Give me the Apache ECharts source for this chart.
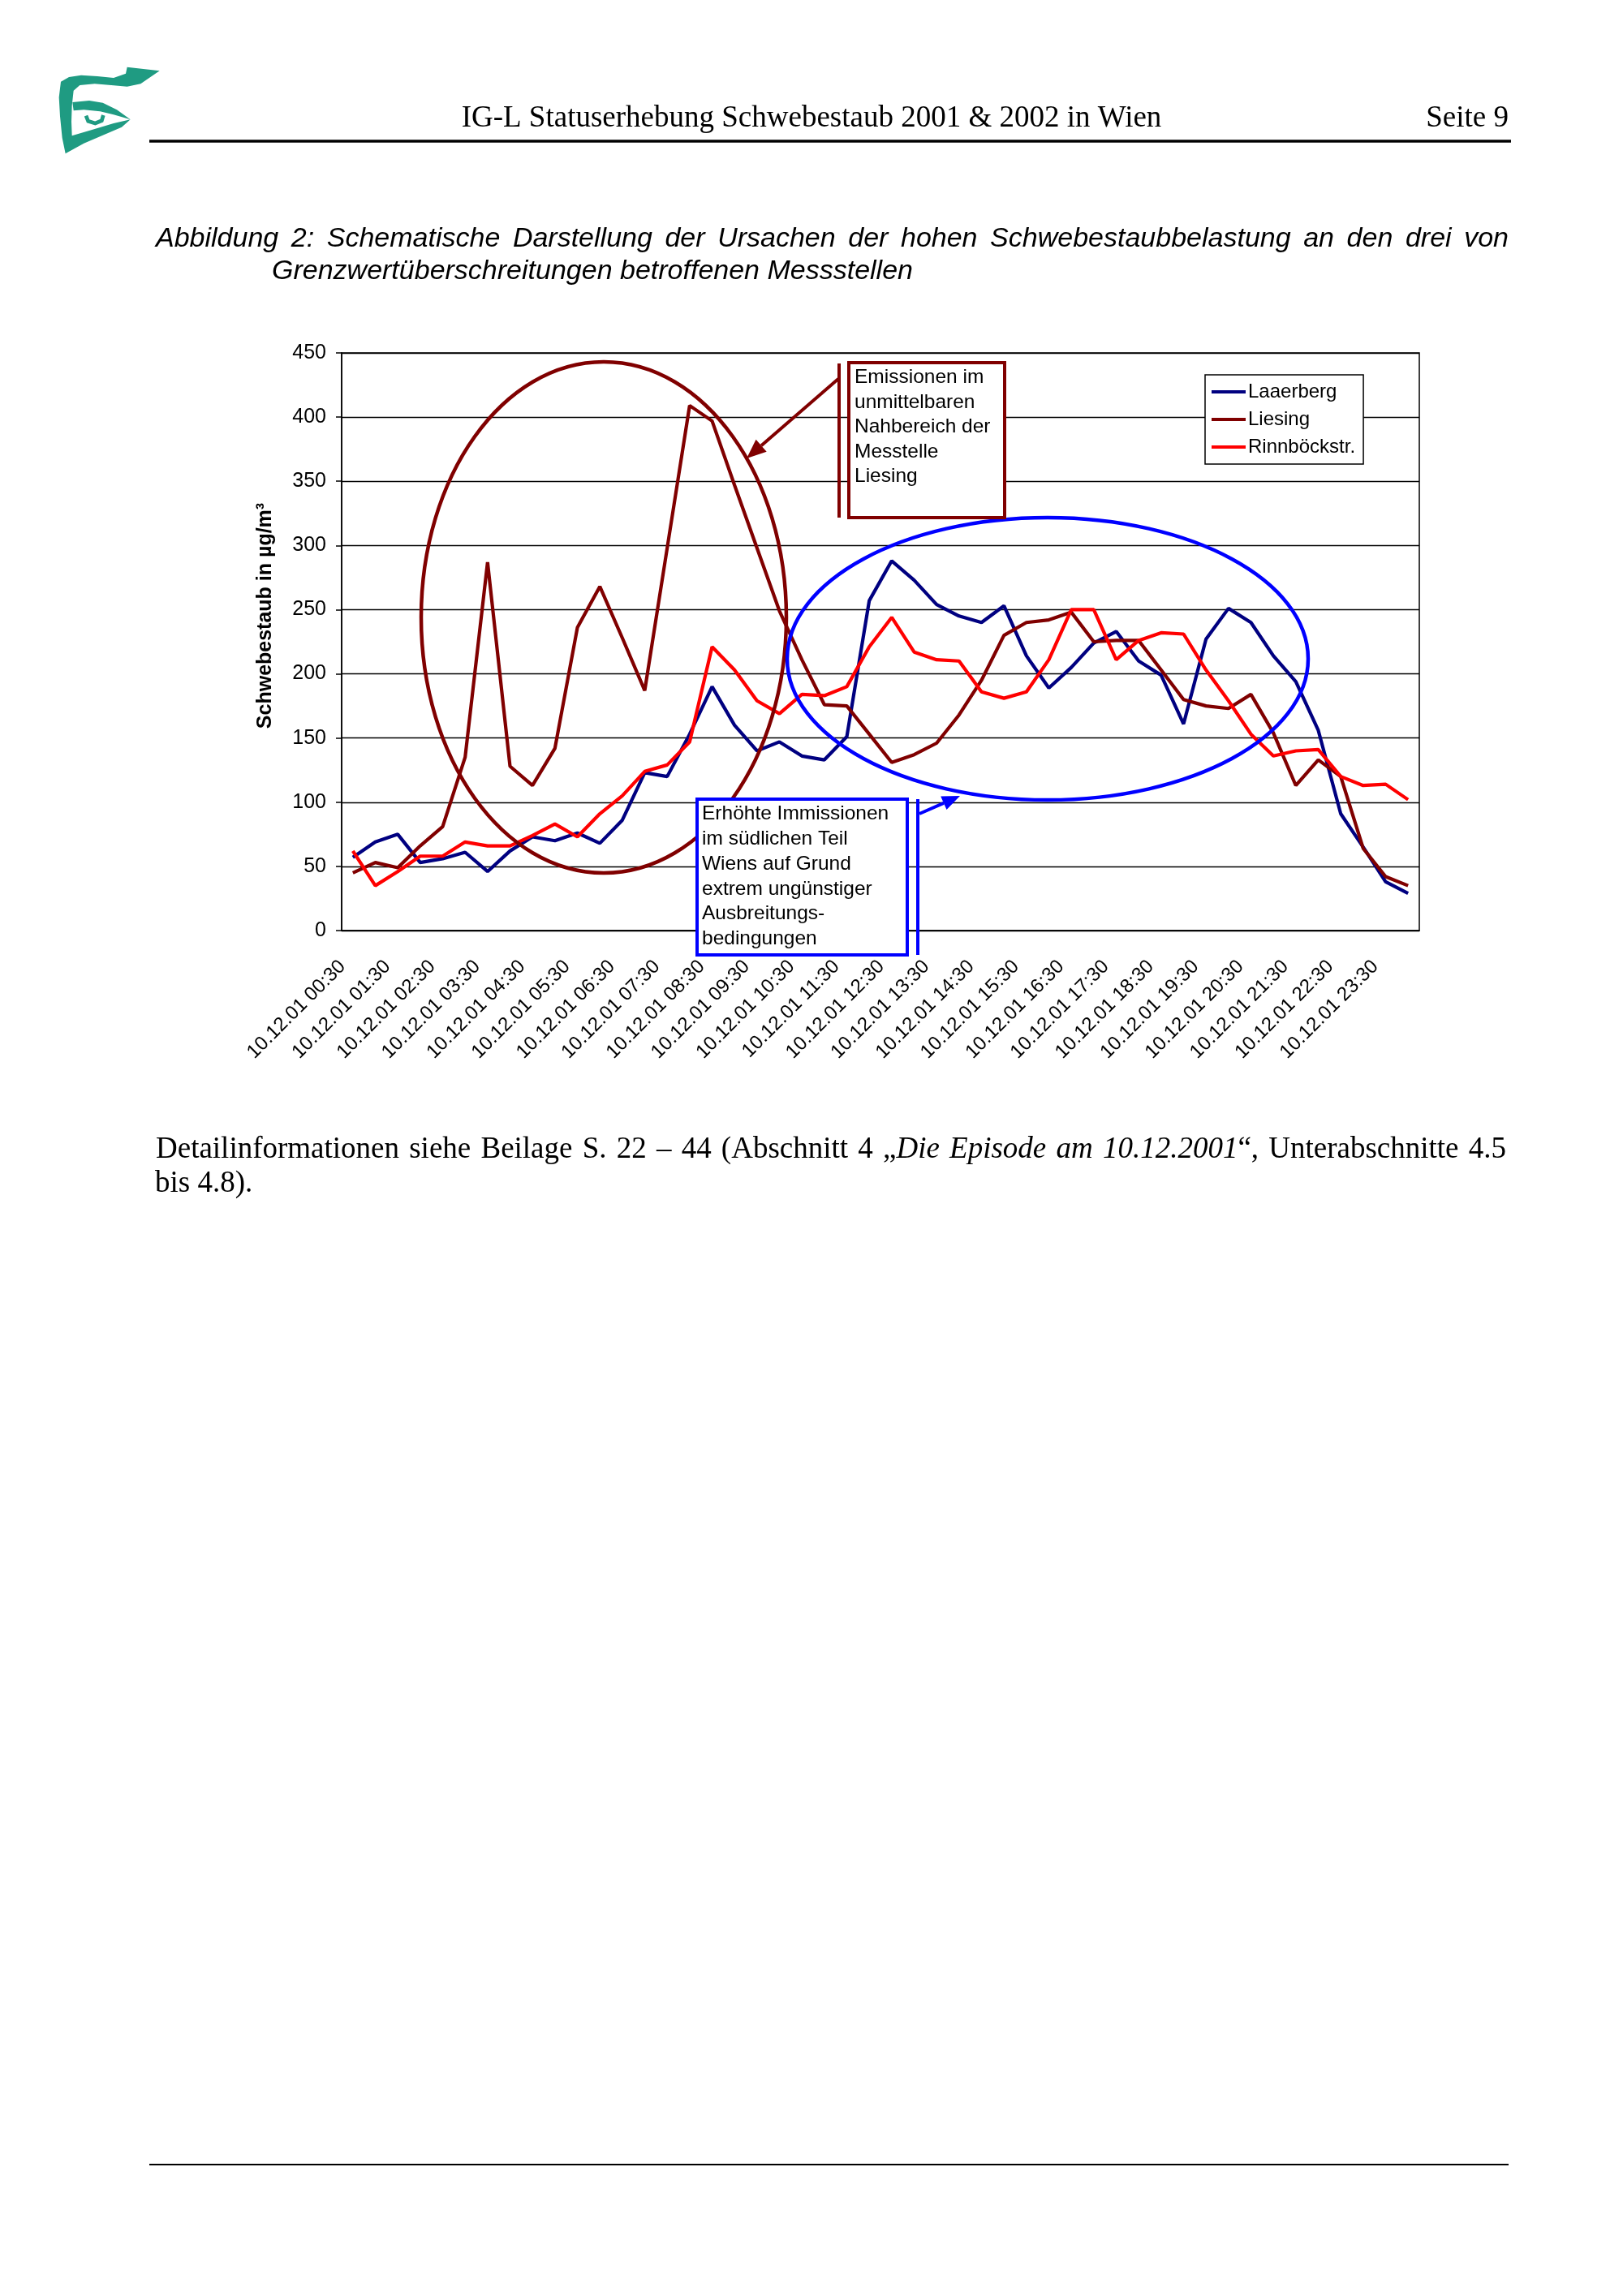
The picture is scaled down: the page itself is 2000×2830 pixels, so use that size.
<!DOCTYPE html>
<html>
<head>
<meta charset="utf-8">
<title>IG-L Statuserhebung Schwebestaub - Abbildung 2</title>
<script src="https://cdn.jsdelivr.net/npm/echarts@6/dist/echarts.min.js"></script>
<style>
  body { margin: 0; background: #fff; }
  #page { width: 2000px; height: 2830px; }
</style>
</head>
<body>
<div id="page"></div>
<script>
// Kategorien (Halbstundenwerte 10.12.2001)
var categories = [
  '10.12.01 00:30','10.12.01 01:00','10.12.01 01:30','10.12.01 02:00','10.12.01 02:30','10.12.01 03:00',
  '10.12.01 03:30','10.12.01 04:00','10.12.01 04:30','10.12.01 05:00','10.12.01 05:30','10.12.01 06:00',
  '10.12.01 06:30','10.12.01 07:00','10.12.01 07:30','10.12.01 08:00','10.12.01 08:30','10.12.01 09:00',
  '10.12.01 09:30','10.12.01 10:00','10.12.01 10:30','10.12.01 11:00','10.12.01 11:30','10.12.01 12:00',
  '10.12.01 12:30','10.12.01 13:00','10.12.01 13:30','10.12.01 14:00','10.12.01 14:30','10.12.01 15:00',
  '10.12.01 15:30','10.12.01 16:00','10.12.01 16:30','10.12.01 17:00','10.12.01 17:30','10.12.01 18:00',
  '10.12.01 18:30','10.12.01 19:00','10.12.01 19:30','10.12.01 20:00','10.12.01 20:30','10.12.01 21:00',
  '10.12.01 21:30','10.12.01 22:00','10.12.01 22:30','10.12.01 23:00','10.12.01 23:30','11.12.01 00:00'
];

// Messwerte Schwebestaub in µg/m3
var laaerberg = [57,69,75,53,56,61,46,62,73,70,76,68,86,123,120,153,190,160,140,147,136,133,151,
  257,288,273,254,245,240,253,214,189,205,224,233,210,199,161,227,251,240,214,194,156,91,65,38,29];
var liesing = [45,53,49,66,81,135,287,128,113,142,236,268,228,187,298,409,397,347,298,249,211,176,175,
  153,131,137,146,168,195,230,240,242,248,225,226,226,203,180,175,173,184,154,113,133,120,64,42,35];
var rinnboeck = [62,35,46,58,58,69,66,66,74,83,73,91,105,124,129,147,221,203,179,169,184,183,
  190,221,244,217,211,210,186,181,186,211,250,250,211,226,232,231,203,179,153,136,140,141,120,113,114,102];

var seriesNames = ['Laaerberg', 'Liesing', 'Rinnböckstr.'];
var yTicks = { min: 0, max: 450, step: 50 };

var SANS = '"Liberation Sans", Arial, sans-serif';
var SERIF = '"Liberation Serif", "Times New Roman", serif';

// Textbreite messen (für Blocksatz)
var cv = document.createElement('canvas').getContext('2d');
function textWidth(t, font) { cv.font = font; return cv.measureText(t).width; }

// Blocksatz: Wörter gleichmäßig zwischen x0 und x1 verteilen
// jedes Wort = Liste von [text, kursiv]
function justify(words, x0, x1, y, size, family) {
  var fontOf = function (it) { return (it ? 'italic ' : '') + size + 'px ' + family; };
  var widths = words.map(function (w) {
    return w.reduce(function (s, seg) { return s + textWidth(seg[0], fontOf(seg[1])); }, 0);
  });
  var total = widths.reduce(function (a, b) { return a + b; }, 0);
  var gap = (x1 - x0 - total) / (words.length - 1);
  var x = x0, out = [];
  words.forEach(function (w, i) {
    var txt = '', rich = {};
    w.forEach(function (seg, k) {
      rich['s' + k] = { fontSize: size, fontFamily: family, fontStyle: seg[1] ? 'italic' : 'normal', fill: '#000' };
      txt += '{s' + k + '|' + seg[0] + '}';
    });
    out.push({ type: 'text', x: x, y: y, z: 100,
      style: { text: txt, rich: rich, align: 'left', verticalAlign: 'middle', fill: '#000' } });
    x += widths[i] + gap;
  });
  return out;
}

var capWords = 'Abbildung 2: Schematische Darstellung der Ursachen der hohen Schwebestaubbelastung an den drei von'
  .split(' ').map(function (w) { return [[w, 1]]; });
var footWords = [
  [['Detailinformationen',0]],[['siehe',0]],[['Beilage',0]],[['S.',0]],[['22',0]],[['–',0]],[['44',0]],
  [['(Abschnitt',0]],[['4',0]],[['„',0],['Die',1]],[['Episode',1]],[['am',1]],[['10.12.2001',1],['“,',0]],
  [['Unterabschnitte',0]],[['4.5',0]]
];

function arrow(x0, y0, x1, y1, color, len, half) {
  var dx = x1 - x0, dy = y1 - y0, L = Math.sqrt(dx * dx + dy * dy);
  var ux = dx / L, uy = dy / L, bx = x1 - len * ux, by = y1 - len * uy;
  return [
    { type: 'line', z: 100, shape: { x1: x0, y1: y0, x2: bx, y2: by }, style: { stroke: color, lineWidth: 4 } },
    { type: 'polygon', z: 100, shape: { points: [[x1, y1], [bx - half * uy, by + half * ux], [bx + half * uy, by - half * ux]] },
      style: { fill: color } }
  ];
}

var teal = '#1f9b82';
var graphics = [
  // Logo
  { type: 'group', x: 60, y: 70, scaleX: 1 / 3, scaleY: 1 / 3, children: [
    { type: 'polygon', shape: { points: [[45,92],[75,75],[120,68],[180,72],[240,78],[285,62],[290,38],[410,52],
      [340,100],[290,110],[240,106],[170,100],[115,105],[92,125],[86,180],[84,240],[86,292],[160,270],[240,246],
      [302,232],[270,260],[200,290],[130,320],[62,358],[50,300],[42,220],[38,150]] }, style: { fill: teal } },
    { type: 'polygon', shape: { points: [[88,168],[150,162],[200,170],[252,196],[302,232],[240,214],[190,202],
      [130,196],[92,199]] }, style: { fill: teal } },
    { type: 'polyline', shape: { points: [[138,218],[146,238],[172,246],[196,236],[202,216]] },
      style: { stroke: teal, lineWidth: 14, fill: null } }
  ]},
  // Kopfzeile
  { type: 'text', x: 1000, y: 146, style: { text: 'IG-L Statuserhebung Schwebestaub 2001 & 2002 in Wien',
    font: '37px ' + SERIF, fill: '#000', align: 'center', verticalAlign: 'middle' } },
  { type: 'text', x: 1859, y: 146, style: { text: 'Seite 9', font: '37px ' + SERIF, fill: '#000',
    align: 'right', verticalAlign: 'middle' } },
  { type: 'line', shape: { x1: 184, y1: 174, x2: 1862, y2: 174 }, style: { stroke: '#000', lineWidth: 3.5 } },
  // Bildunterschrift Zeile 2
  { type: 'text', x: 335, y: 335, style: { text: 'Grenzwertüberschreitungen betroffenen Messstellen',
    font: 'italic 34px ' + SANS, fill: '#000', align: 'left', verticalAlign: 'middle' } },
  // Fußtext Zeile 2
  { type: 'text', x: 191, y: 1459, style: { text: 'bis 4.8).', font: '37px ' + SERIF, fill: '#000',
    align: 'left', verticalAlign: 'middle' } },
  { type: 'line', shape: { x1: 184, y1: 2668, x2: 1859, y2: 2668 }, style: { stroke: '#000', lineWidth: 2 } },
  // y-Achsentitel
  { type: 'text', x: 327, y: 759, rotation: Math.PI / 2, style: { text: 'Schwebestaub in µg/m³',
    font: 'bold 25px ' + SANS, fill: '#000', align: 'center', verticalAlign: 'middle' } },
  // Ellipsen
  { type: 'ellipse', z: 100, shape: { cx: 744, cy: 761, rx: 225, ry: 315 },
    style: { fill: null, stroke: '#800000', lineWidth: 4.5 } },
  { type: 'ellipse', z: 100, shape: { cx: 1291, cy: 812, rx: 321, ry: 174 },
    style: { fill: null, stroke: '#0000ff', lineWidth: 4.5 } },
  // Textfeld Liesing
  { type: 'line', z: 100, shape: { x1: 1034, y1: 448, x2: 1034, y2: 638 }, style: { stroke: '#800000', lineWidth: 4 } },
  { type: 'rect', z: 100, shape: { x: 1046, y: 447, width: 192, height: 191 },
    style: { fill: '#fff', stroke: '#800000', lineWidth: 4 } },
  { type: 'text', z: 101, x: 1053, y: 450, style: { text: 'Emissionen im\nunmittelbaren\nNahbereich der\nMesstelle\nLiesing',
    font: '24.5px ' + SANS, fill: '#000', lineHeight: 30.5, align: 'left', verticalAlign: 'top' } },
  // Textfeld Immissionen
  { type: 'line', z: 100, shape: { x1: 1131, y1: 985, x2: 1131, y2: 1177 }, style: { stroke: '#0000ff', lineWidth: 4 } },
  { type: 'rect', z: 100, shape: { x: 859, y: 985, width: 259, height: 192 },
    style: { fill: '#fff', stroke: '#0000ff', lineWidth: 4 } },
  { type: 'text', z: 101, x: 865, y: 988, style: { text: 'Erhöhte Immissionen\nim südlichen Teil\nWiens auf Grund\nextrem ungünstiger\nAusbreitungs-\nbedingungen',
    font: '24.5px ' + SANS, fill: '#000', lineHeight: 30.8, align: 'left', verticalAlign: 'top' } }
];
graphics = graphics
  .concat(arrow(1033, 467, 920, 565, '#800000', 24, 10))
  .concat(arrow(1133, 1003, 1183, 981, '#0000ff', 22, 9))
  .concat(justify(capWords, 192, 1859, 295, 34, SANS))
  .concat(justify(footWords, 192, 1856, 1417, 37, SERIF));

var chart = echarts.init(document.getElementById('page'));

var colors = ['#000080', '#800000', '#ff0000'];
var data = [laaerberg, liesing, rinnboeck];

var option = {
  backgroundColor: '#fff',
  animation: false,
  color: colors,
  textStyle: { fontFamily: SANS, color: '#000' },
  grid: { left: 421, top: 435, width: 1328, height: 712, show: true, borderColor: '#000', borderWidth: 1.5 },
  legend: {
    left: 1485, top: 462, orient: 'vertical',
    data: seriesNames.map(function (n) { return { name: n, icon: 'rect' }; }),
    backgroundColor: '#fff', borderColor: '#000', borderWidth: 1.5,
    padding: [9, 10, 9, 8], itemGap: 10, itemWidth: 42, itemHeight: 4,
    textStyle: { fontSize: 24, color: '#000', fontFamily: SANS, padding: [0, 0, 0, -2] }
  },
  xAxis: {
    type: 'category', data: categories, boundaryGap: true,
    axisLine: { lineStyle: { color: '#000', width: 1.5 } },
    axisTick: { interval: 0, length: 7, lineStyle: { color: '#000', width: 1.5 } },
    axisLabel: { interval: 1, rotate: 45, fontSize: 24, color: '#000', margin: 28,
      padding: [0, 18, 0, 0], fontFamily: SANS }
  },
  yAxis: {
    type: 'value', min: yTicks.min, max: yTicks.max, interval: yTicks.step,
    axisLine: { show: true, lineStyle: { color: '#000', width: 1.5 } },
    axisTick: { show: true, length: 7, lineStyle: { color: '#000', width: 1.5 } },
    axisLabel: { fontSize: 25, color: '#000', margin: 19, fontFamily: SANS },
    splitLine: { lineStyle: { color: '#000', width: 1.3 } }
  },
  series: seriesNames.map(function (n, i) {
    return { name: n, type: 'line', data: data[i], symbol: 'none', smooth: false,
      lineStyle: { width: 4.2, color: colors[i] }, itemStyle: { color: colors[i] }, z: 3 };
  }),
  graphic: graphics
};

chart.setOption(option);
</script>
</body>
</html>
